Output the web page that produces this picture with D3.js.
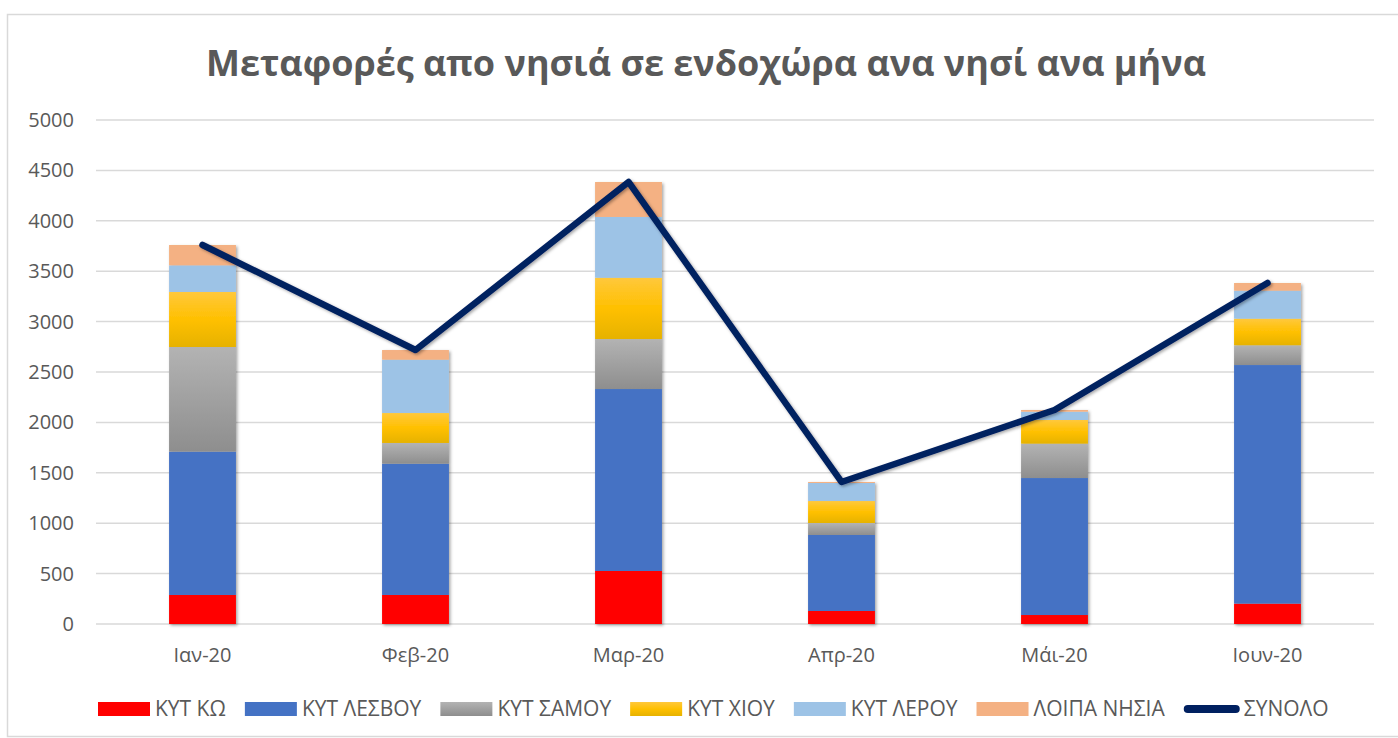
<!DOCTYPE html>
<html>
<head>
<meta charset="utf-8">
<script src="https://cdn.jsdelivr.net/npm/d3@7"></script>
<style>
  html, body { margin: 0; padding: 0; background: #fff; }
  svg { display: block; font-family: "Open Sans", sans-serif; }
</style>
</head>
<body>
<svg id="chart" width="1398" height="738"></svg>
<script>
const categories = ["Ιαν-20", "Φεβ-20", "Μαρ-20", "Απρ-20", "Μάι-20", "Ιουν-20"];
const kytKo     = [288, 288, 526, 129, 89, 202];
const kytLesvou = [1422, 1302, 1805, 754, 1359, 2367];
const kytSamou  = [1038, 206, 496, 119, 341, 196];
const kytChiou  = [546, 297, 608, 218, 235, 264];
const kytLerou  = [264, 529, 603, 179, 82, 278];
const loipa     = [202, 96, 347, 10, 17, 76];
const synolo    = [3760, 2718, 4385, 1409, 2123, 3383];
const seriesNames = ["ΚΥΤ ΚΩ", "ΚΥΤ ΛΕΣΒΟΥ", "ΚΥΤ ΣΑΜΟΥ", "ΚΥΤ ΧΙΟΥ", "ΚΥΤ ΛΕΡΟΥ", "ΛΟΙΠΑ ΝΗΣΙΑ"];
const lineName = "ΣΥΝΟΛΟ";
const yTicks = [0, 500, 1000, 1500, 2000, 2500, 3000, 3500, 4000, 4500, 5000];
const title = "Μεταφορές απο νησιά σε ενδοχώρα ανα νησί ανα μήνα";

const seriesValues = [kytKo, kytLesvou, kytSamou, kytChiou, kytLerou, loipa];
const fills = ["#ff0000", "#4472c4", "url(#gGray)", "url(#gYellow)", "#9dc3e6", "#f4b183"];
const textColor = "#595959";

const svg = d3.select("#chart");
const defs = svg.append("defs");

function grad(id, stops) {
  const g = defs.append("linearGradient").attr("id", id)
    .attr("x1", 0).attr("y1", 0).attr("x2", 0).attr("y2", 1);
  stops.forEach(s => g.append("stop").attr("offset", s[0]).attr("stop-color", s[1]));
}
grad("gGray", [[0, "#b3b3b3"], [1, "#8e8e8e"]]);
grad("gYellow", [[0, "#ffc83c"], [0.5, "#ffc000"], [1, "#e6b200"]]);

const shadow = defs.append("filter").attr("id", "shadow")
  .attr("x", "-20%").attr("y", "-20%").attr("width", "140%").attr("height", "140%");
shadow.append("feDropShadow").attr("dx", 1.5).attr("dy", 1.5).attr("stdDeviation", 1.5)
  .attr("flood-color", "#000").attr("flood-opacity", 0.35);

// chart border
svg.append("rect").attr("x", 7.5).attr("y", 14.5).attr("width", 1400).attr("height", 722)
  .attr("fill", "#fff").attr("stroke", "#d9d9d9").attr("stroke-width", 1.5);

// title
svg.append("text").attr("x", 706).attr("y", 76).attr("text-anchor", "middle")
  .attr("font-size", 36).attr("font-weight", "bold").attr("fill", textColor)
  .text(title);

const x = d3.scaleBand().domain(categories).range([96, 1374])
  .paddingInner(0.686).paddingOuter(0.343);
const y = d3.scaleLinear().domain([0, 5000]).range([624, 120]);

// gridlines
svg.append("g").selectAll("line").data(yTicks).join("line")
  .attr("x1", 96).attr("x2", 1374)
  .attr("y1", d => y(d)).attr("y2", d => y(d))
  .attr("stroke", "#d9d9d9").attr("stroke-width", 1.5);

// y axis
const yAxis = svg.append("g").attr("transform", "translate(74,0)")
  .call(d3.axisLeft(y).tickValues(yTicks).tickSize(0).tickPadding(0).tickFormat(d3.format("d")));
yAxis.select(".domain").remove();
yAxis.selectAll("text").attr("font-size", 20).attr("fill", textColor)
  .attr("font-family", "Open Sans, sans-serif");

// x axis
const xAxis = svg.append("g").attr("transform", "translate(0,624)")
  .call(d3.axisBottom(x).tickSize(0).tickPadding(24));
xAxis.select(".domain").remove();
xAxis.selectAll("text").attr("font-size", 20).attr("fill", textColor)
  .attr("font-family", "Open Sans, sans-serif");

// stacked data
const rows = categories.map((c, i) => {
  const r = { cat: c };
  seriesNames.forEach((s, k) => r[s] = seriesValues[k][i]);
  return r;
});
const stack = d3.stack().keys(seriesNames)(rows);

const barsG = svg.append("g").attr("filter", "url(#shadow)");
stack.forEach((layer, k) => {
  barsG.append("g").selectAll("rect").data(layer).join("rect")
    .attr("x", d => x(d.data.cat))
    .attr("width", x.bandwidth())
    .attr("y", d => y(d[1]))
    .attr("height", d => y(d[0]) - y(d[1]))
    .attr("fill", fills[k]);
});

// total line
const line = d3.line().x((d, i) => x(categories[i]) + x.bandwidth() / 2).y(d => y(d));
svg.append("path").datum(synolo).attr("d", line)
  .attr("fill", "none").attr("stroke", "#002060").attr("stroke-width", 6.5)
  .attr("stroke-linecap", "round").attr("stroke-linejoin", "round")
  .attr("filter", "url(#shadow)");

// legend
const legend = svg.append("g");
const items = seriesNames.map((n, k) => ({ name: n, fill: fills[k], type: "rect" }))
  .concat([{ name: lineName, type: "line" }]);
let cx = 98;
const ly = 709;
items.forEach(it => {
  const g = legend.append("g");
  if (it.type === "rect") {
    g.append("rect").attr("x", cx).attr("y", ly - 7).attr("width", 52).attr("height", 14).attr("fill", it.fill);
  } else {
    g.append("line").attr("x1", cx + 4).attr("x2", cx + 52).attr("y1", ly).attr("y2", ly)
      .attr("stroke", "#002060").attr("stroke-width", 8).attr("stroke-linecap", "round");
  }
  const t = g.append("text").attr("x", cx + (it.type === "rect" ? 57 : 60)).attr("y", ly + 7)
    .attr("font-size", 21).attr("fill", textColor).text(it.name);
  const w = t.node().getComputedTextLength();
  cx += 57 + w + 19;
});
</script>
</body>
</html>
